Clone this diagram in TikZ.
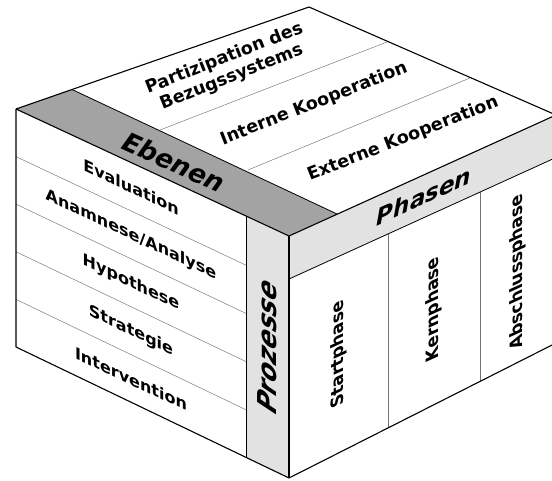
\documentclass[tikz,border=0pt]{standalone}
\usepackage{fontspec}
\setmainfont{DejaVu Sans}
\definecolor{bandDark}{RGB}{163,163,163}
\definecolor{bandLight}{RGB}{226,226,226}
\begin{document}
\begin{tikzpicture}[x=1pt,y=-1pt,
  edge/.style={line width=1.1pt,line join=round},
  sepline/.style={line width=0.45pt,draw=black!55},
  leftlabel/.style={font=\bfseries\fontsize{16}{18}\selectfont,inner sep=0pt,transform shape,yslant=-0.47},
  toplabel/.style={font=\bfseries\fontsize{17.5}{20}\selectfont,inner sep=0pt,align=center,rotate=21.5},
  rightlabel/.style={font=\bfseries\fontsize{17}{20}\selectfont,inner sep=0pt,transform shape,cm={0,1,-1,-0.455,(0,0)}},
  bandlabel/.style={font=\bfseries\itshape\fontsize{23}{26}\selectfont,inner sep=0pt}
]
\useasboundingbox (0,0) rectangle (552,480);
\clip (0,0) rectangle (552,480);
\fill[white] (0,0) rectangle (552,480);

% cube corners
\coordinate (L)  at (16,109);
\coordinate (T)  at (309,7);
\coordinate (R)  at (556,115);
\coordinate (F)  at (289,236);
\coordinate (B)  at (289,478);
\coordinate (LB) at (16,347);
\coordinate (RB) at (556,343);

% inner corners of the bands
\coordinate (L2) at (72,89.5);
\coordinate (F2) at (337,214);
\coordinate (P1) at (246,217);
\coordinate (P2) at (246,458);
\coordinate (F3) at (289,279);
\coordinate (R3) at (556,157.5);

% top face stripes
\coordinate (s1a) at (160,130);
\coordinate (s1b) at (387,42);
\coordinate (s2a) at (248,170);
\coordinate (s2b) at (470,78);

% bands
\fill[bandDark] (L) -- (F) -- (F2) -- (L2) -- cycle;
\fill[bandLight] (P1) -- (F) -- (B) -- (P2) -- cycle;
\fill[bandLight] (F) -- (R) -- (R3) -- (F3) -- cycle;

% stripe separators on the top face
\draw[sepline] (s1a) -- (s1b);
\draw[sepline] (s2a) -- (s2b);

% row separators on the left face
\foreach \k in {1,...,4}{
  \draw[sepline] (16,{109+47.6*\k}) -- (246,{217+48.2*\k});
}

% column separators on the right face
\draw[sepline] (388,234) -- (388,428);
\draw[sepline] (480,192) -- (480,381);

% band borders
\draw[line width=0.8pt] (L2) -- (F2);
\draw[line width=0.8pt] (P1) -- (P2);
\draw[line width=0.8pt] (F3) -- (R3);

% outline of the cube
\draw[edge] (L) -- (T) -- (R);
\draw[edge] (L) -- (F) -- (R);
\draw[edge] (L) -- (LB) -- (B) -- (RB);
\draw[edge] (F) -- (B);

% top face labels
\node[toplabel] (tPart) at (228,68) {Partizipation des\\Bezugssystems};
\node[toplabel] (tIntern) at (314,104) {Interne Kooperation};
\node[toplabel] (tExtern) at (403,139) {Externe Kooperation};

% band labels
\node[bandlabel,font=\bfseries\itshape\fontsize{26}{28}\selectfont,rotate=-24.7] (bEbenen) at (174,162) {Ebenen};
\node[bandlabel,transform shape,yslant=0.455] (bPhasen) at (424,196) {Phasen};
\node[bandlabel,font=\bfseries\itshape\fontsize{26}{28}\selectfont,transform shape,cm={0,1,-1,0.47,(0,0)}] (bProzesse) at (267.5,346) {Prozesse};

% left face labels
\node[leftlabel] (lEval) at (131,187) {Evaluation};
\node[leftlabel] (lAnam) at (131,235) {Anamnese/Analyse};
\node[leftlabel] (lHyp)  at (131,283) {Hypothese};
\node[leftlabel] (lStrat) at (131,331) {Strategie};
\node[leftlabel] (lInt)  at (131,379) {Intervention};

% right face labels
\node[rightlabel] (rStart) at (339,354) {Startphase};
\node[rightlabel] (rKern)  at (434,309) {Kernphase};
\node[rightlabel] (rAbs)   at (518,272) {Abschlussphase};
\end{tikzpicture}
\end{document}
